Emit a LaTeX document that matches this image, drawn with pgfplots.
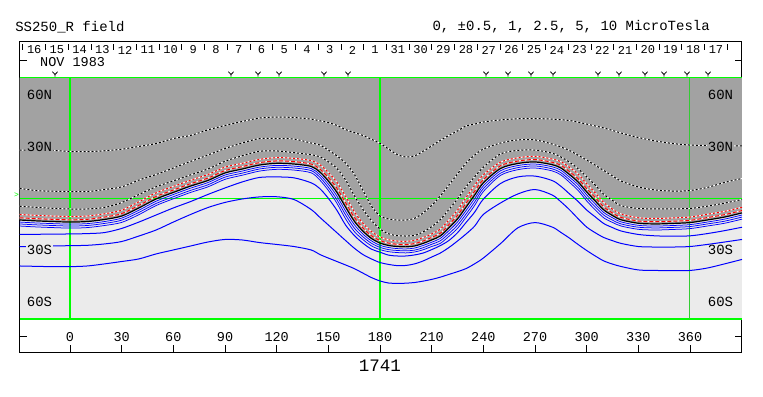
\documentclass[border=0pt]{standalone}
\usepackage{pgfplots}
\pgfplotsset{compat=1.18}
\usepackage{pgfplotstable}
\usepackage{fontspec}
\setmainfont{Liberation Mono}
\definecolor{dgray}{RGB}{162,162,162}
\definecolor{lgray}{RGB}{235,235,235}
\definecolor{pgreen}{RGB}{0,255,0}
\definecolor{pblue}{RGB}{0,0,255}
\definecolor{pred}{RGB}{255,0,0}

\pgfdeclareplotmark{vee}{%
 \pgfpathmoveto{\pgfqpoint{-2.6pt}{2.4pt}}%
 \pgfpathlineto{\pgfqpoint{0pt}{-0.4pt}}%
 \pgfpathlineto{\pgfqpoint{2.6pt}{2.4pt}}%
 \pgfpathmoveto{\pgfqpoint{0pt}{-0.4pt}}%
 \pgfpathlineto{\pgfqpoint{0pt}{-2.6pt}}%
 \pgfusepathqstroke}

\pgfplotstableread{
lon N R2 R1 B1 B2 B3 D1 D2 D3 B4 B5 B6
-29.3 -12.6 -9.4 -11.3 -13.8 -14.9 -16.1 -4.6 5.8 28.0 -20.9 -28.1 -39.3
-20 -13.1 -9.9 -11.8 -14.3 -15.4 -16.6 -5.2 4.5 28.0 -20.9 -27.9 -39.5
-10 -13.5 -10.3 -12.2 -14.7 -15.8 -17.0 -5.8 4.1 27.8 -20.8 -27.7 -39.7
0 -13.8 -10.6 -12.5 -15.0 -16.1 -17.3 -6.2 3.9 27.2 -20.7 -27.5 -39.7
10 -13.5 -10.3 -12.2 -14.7 -15.8 -17.0 -6.2 3.9 27.1 -20.5 -27.3 -39.3
20 -12.3 -9.0 -10.9 -13.5 -14.6 -15.8 -5.3 5.1 27.6 -19.9 -26.5 -38.1
30 -10.3 -6.9 -8.9 -11.5 -12.7 -14.0 -2.5 6.6 28.5 -17.5 -25.1 -36.7
40 -5.6 -2.0 -4.1 -6.9 -8.2 -9.5 2.2 10.6 30.1 -13.8 -21.9 -35.2
50 -0.4 3.2 1.1 -1.7 -3.0 -4.2 6.7 13.8 31.8 -9.7 -18.4 -32.3
60 3.4 6.9 4.8 2.2 0.9 -0.3 10.1 17.6 34.7 -5.6 -13.8 -30.0
70 7.1 10.5 8.5 5.9 4.6 3.4 13.6 21.4 36.5 -1.9 -9.4 -27.7
80 10.3 13.8 11.7 9.1 7.8 6.6 17.0 25.1 39.7 2.2 -5.4 -25.4
90 14.7 18.1 16.1 13.5 12.3 11.0 21.5 28.9 42.3 6.0 -2.4 -23.9
100 17.0 20.3 18.4 15.8 14.6 13.4 24.7 32.1 44.6 9.5 -0.4 -24.2
110 19.3 22.6 20.7 18.1 17.0 15.8 27.3 34.7 46.6 12.1 0.8 -25.7
120 20.3 23.6 21.7 19.1 18.0 16.8 27.5 34.7 47.2 12.4 0.9 -26.8
130 19.9 23.2 21.3 18.7 17.6 16.4 26.5 34.4 46.9 11.9 -0.7 -28.0
140 18.5 21.9 19.9 17.3 16.1 14.8 25.3 32.1 46.0 9.0 -6.5 -30.0
145 15.3 19.6 17.1 13.8 12.3 10.7 24.1 31.0 45.0 5.7 -11.0 -32.6
150 10.0 15.0 12.1 8.2 6.4 4.6 21.2 28.0 44.0 0.0 -15.5 -34.7
155 3.4 9.3 5.8 1.3 -0.8 -2.9 17.3 24.6 42.3 -7.0 -20.0 -36.7
160 -5.1 1.2 -2.5 -7.4 -9.6 -11.9 10.7 20.5 39.9 -15.5 -24.5 -38.7
165 -13.2 -7.6 -10.9 -15.2 -17.2 -19.2 1.7 14.1 38.2 -21.5 -28.9 -40.8
170 -19.0 -14.4 -17.1 -20.7 -22.3 -23.9 -6.3 4.8 36.5 -26.0 -32.6 -43.4
175 -23.3 -19.3 -21.7 -24.7 -26.1 -27.6 -12.9 -4.5 34.3 -29.5 -35.2 -46.0
180 -26.0 -22.5 -24.5 -27.3 -28.5 -29.8 -17.8 -10.3 31.9 -31.3 -37.3 -48.0
185 -27.4 -24.1 -26.0 -28.6 -29.8 -31.0 -20.6 -12.0 28.6 -33.0 -38.4 -49.2
190 -28.0 -24.8 -26.7 -29.2 -30.3 -31.5 -21.7 -12.6 25.4 -33.5 -39.1 -49.4
195 -28.2 -25.0 -26.9 -29.4 -30.5 -31.7 -21.9 -12.6 24.0 -33.5 -39.0 -49.3
200 -27.7 -24.4 -26.3 -28.9 -30.1 -31.2 -21.6 -11.7 24.6 -32.9 -38.1 -48.9
205 -26.2 -22.8 -24.8 -27.4 -28.7 -29.9 -19.5 -8.5 27.3 -31.8 -36.4 -48.1
210 -24.2 -20.7 -22.7 -25.5 -26.7 -28.0 -16.5 -4.2 30.4 -29.8 -34.1 -47.1
215 -21.9 -17.9 -20.3 -23.3 -24.7 -26.2 -12.4 1.3 33.6 -27.5 -31.8 -45.8
220 -17.2 -12.6 -15.3 -18.8 -20.5 -22.1 -6.5 7.7 36.5 -24.5 -28.6 -44.2
225 -12.0 -6.9 -9.9 -13.8 -15.6 -17.5 -0.4 14.1 39.1 -20.0 -24.8 -42.6
230 -5.1 0.5 -2.8 -7.1 -9.1 -11.0 6.7 20.5 42.0 -14.0 -20.7 -40.8
235 1.9 7.5 4.2 -0.1 -2.1 -4.1 12.5 25.1 43.1 -8.0 -16.1 -38.0
240 8.9 13.6 10.8 7.2 5.6 3.9 18.0 28.6 44.3 -0.5 -9.4 -34.7
250 17.3 21.0 18.9 16.0 14.6 13.3 25.8 32.1 45.5 8.6 -2.7 -26.3
260 20.2 23.5 21.6 19.0 17.8 16.6 27.8 33.9 46.2 12.4 2.5 -17.2
270 21.1 24.4 22.5 19.9 18.8 17.6 28.0 33.9 46.3 12.9 5.1 -14.1
280 19.5 22.8 20.9 18.3 17.1 15.9 26.2 31.5 46.0 10.3 1.9 -16.7
285 17.6 21.3 19.2 16.3 14.9 13.6 24.0 29.8 45.6 7.0 -2.0 -19.8
290 13.8 18.0 15.5 12.3 10.8 9.3 21.0 27.8 45.2 2.6 -6.6 -23.1
295 9.5 14.1 11.4 7.9 6.2 4.6 17.2 25.0 44.2 -1.8 -11.8 -26.8
300 3.7 8.5 5.7 2.0 0.2 -1.5 12.5 22.2 43.1 -6.8 -16.7 -30.3
305 -1.6 3.1 0.4 -3.3 -5.0 -6.7 7.6 19.2 42.0 -10.8 -20.0 -33.5
310 -6.8 -2.5 -5.0 -8.3 -9.8 -11.4 2.3 16.1 40.8 -14.7 -22.8 -36.4
315 -10.0 -6.3 -8.5 -11.3 -12.7 -14.0 -1.2 13.0 39.4 -17.0 -24.6 -38.2
320 -12.5 -9.1 -11.1 -13.7 -14.9 -16.1 -4.3 10.0 37.9 -19.0 -26.2 -39.6
330 -14.5 -11.3 -13.2 -15.7 -16.8 -18.0 -5.9 6.6 35.3 -21.0 -28.0 -41.6
340 -14.9 -11.7 -13.6 -16.1 -17.2 -18.4 -6.1 4.8 33.3 -21.8 -28.3 -41.9
350 -14.6 -11.4 -13.3 -15.8 -16.9 -18.1 -6.1 4.2 31.8 -22.0 -28.3 -42.0
360 -14.1 -10.9 -12.8 -15.3 -16.4 -17.6 -5.9 4.5 30.9 -21.8 -28.0 -41.9
370 -12.6 -9.3 -11.2 -13.8 -14.9 -16.1 -4.6 6.3 30.7 -20.5 -26.8 -40.5
380 -10.9 -7.6 -9.5 -12.1 -13.3 -14.5 -2.8 9.2 30.4 -18.8 -25.4 -38.1
390.2 -8.5 -5.2 -7.1 -9.7 -10.9 -12.1 -0.7 11.5 30.4 -16.8 -23.9 -35.5
}\contours

\pgfplotstableread{
lon lat
-8.7 72.1
93.5 72.1
109.2 72.1
121.4 72.1
147.5 72.1
161.4 72.1
241.6 72.1
254.3 72.1
267.7 72.1
280.5 72.1
306.6 72.1
318.8 72.1
333.9 72.1
344.9 72.1
358.3 72.1
370.5 72.1
}\vmarks

\pgfplotstableread{
lon lat
-27.39 87.6
-14.19 87.6
-1.00 87.6
12.20 87.6
25.39 87.6
38.59 87.6
51.79 87.6
64.98 87.6
78.18 87.6
91.37 87.6
104.57 87.6
117.77 87.6
130.96 87.6
144.16 87.6
157.35 87.6
170.55 87.6
183.75 87.6
196.94 87.6
210.14 87.6
223.33 87.6
236.53 87.6
249.73 87.6
262.92 87.6
276.12 87.6
289.31 87.6
302.51 87.6
315.71 87.6
328.90 87.6
342.10 87.6
355.29 87.6
368.49 87.6
381.69 87.6
}\seps

\begin{document}
\begin{tikzpicture}
\begin{axis}[
  x=1.7222pt, y=1.7222pt,
  xmin=-29.3, xmax=390.2, ymin=-89.25, ymax=90.76,
  clip=false,
  axis line style={black, line width=1pt},
  tick style={black, line width=0.9pt},
  tick align=inside,
  major tick length=7pt,
  xtick={0,30,...,360},
  xtick pos=bottom,
  ytick={-80,-70,...,80},
  ytick pos=both,
  yticklabels={},
  /pgf/number format/assume math mode=true,
  xticklabel style={font=\fontsize{13.5}{14}\selectfont, anchor=center, yshift=15pt},
]
% backgrounds
\addplot[fill=lgray, draw=none] coordinates {(-29.3,-70) (390.2,-70) (390.2,70) (-29.3,70)} -- cycle;
\addplot[fill=dgray, draw=none, smooth] table[x=lon,y=N]{\contours} -- (axis cs:390.2,70) -- (axis cs:-29.3,70) -- cycle;
% green grid
\addplot[pgreen, line width=1.4pt] coordinates {(-29.3,0) (390.2,0)};
\addplot[pgreen, line width=1.4pt] coordinates {(-29.3,70) (390.2,70)};
\addplot[pgreen, line width=1.4pt] coordinates {(-29.3,-70) (390.2,-70)};
\addplot[pgreen, line width=1.2pt] coordinates {(0,-70) (0,70)};
\addplot[pgreen, line width=1.2pt] coordinates {(180,-70) (180,70)};
\addplot[pgreen!60!gray, line width=1.0pt] coordinates {(360,-70) (360,70)};
% negative contours (dotted black/white)
\addplot[white, line width=1pt, smooth] table[x=lon,y=D3]{\contours};
\addplot[black, line width=1pt, smooth, dash pattern=on 2pt off 2pt] table[x=lon,y=D3]{\contours};
\addplot[white, line width=1pt, smooth] table[x=lon,y=D2]{\contours};
\addplot[black, line width=1pt, smooth, dash pattern=on 2pt off 2pt] table[x=lon,y=D2]{\contours};
\addplot[white, line width=1pt, smooth] table[x=lon,y=D1]{\contours};
\addplot[black, line width=1pt, smooth, dash pattern=on 2pt off 2pt] table[x=lon,y=D1]{\contours};
% red contours
\addplot[white, line width=1pt, smooth] table[x=lon,y=R2]{\contours};
\addplot[pred, line width=1pt, smooth, dash pattern=on 2pt off 2pt] table[x=lon,y=R2]{\contours};
\addplot[white, line width=1pt, smooth] table[x=lon,y=R1]{\contours};
\addplot[pred, line width=1pt, smooth, dash pattern=on 4pt off 2pt] table[x=lon,y=R1]{\contours};
% positive contours (blue)
\addplot[pblue, line width=1pt, smooth] table[x=lon,y=B6]{\contours};
\addplot[pblue, line width=1pt, smooth] table[x=lon,y=B5]{\contours};
\addplot[pblue, line width=1pt, smooth] table[x=lon,y=B4]{\contours};
\addplot[pblue, line width=0.75pt, smooth] table[x=lon,y=B3]{\contours};
\addplot[pblue, line width=0.75pt, smooth] table[x=lon,y=B2]{\contours};
\addplot[pblue, line width=0.75pt, smooth] table[x=lon,y=B1]{\contours};
% neutral line
\addplot[black, line width=1.2pt, smooth] table[x=lon,y=N]{\contours};
% latitude labels
\node[anchor=west, fill=dgray, inner sep=0.6pt, font=\fontsize{14}{14}\selectfont] at (axis cs:-25.5,60) {60N};
\node[anchor=west, fill=dgray, inner sep=0.6pt, font=\fontsize{14}{14}\selectfont] at (axis cs:-25.5,30) {30N};
\node[anchor=west, fill=lgray, inner sep=0.6pt, font=\fontsize{14}{14}\selectfont] at (axis cs:-25.5,-30) {30S};
\node[anchor=west, fill=lgray, inner sep=0.6pt, font=\fontsize{14}{14}\selectfont] at (axis cs:-25.5,-60) {60S};
\node[anchor=east, fill=dgray, inner sep=0.6pt, font=\fontsize{14}{14}\selectfont] at (axis cs:385.5,60) {60N};
\node[anchor=east, fill=dgray, inner sep=0.6pt, font=\fontsize{14}{14}\selectfont] at (axis cs:385.5,30) {30N};
\node[anchor=east, fill=lgray, inner sep=0.6pt, font=\fontsize{14}{14}\selectfont] at (axis cs:385.5,-30) {30S};
\node[anchor=east, fill=lgray, inner sep=0.6pt, font=\fontsize{14}{14}\selectfont] at (axis cs:385.5,-60) {60S};
\node[text=pgreen, font=\fontsize{8}{8}\selectfont, inner sep=0pt] at (axis cs:-31.0,2.0) {>};
% v marks and day separators
\addplot[only marks, mark=vee, mark options={black, line width=0.8pt}] table[x=lon,y=lat]{\vmarks};
\addplot[only marks, mark=|, mark size=3pt, mark options={black, line width=0.9pt}] table[x=lon,y=lat]{\seps};
% day labels
\begin{scope}[every node/.style={font=\fontsize{12}{12}\selectfont, inner sep=0pt}]
\node at (axis cs:-20.79,86.1) {16};
\node at (axis cs:-7.59,86.1) {15};
\node at (axis cs:5.60,86.1) {14};
\node at (axis cs:18.80,86.1) {13};
\node at (axis cs:31.99,86.1) {12};
\node at (axis cs:45.19,86.1) {11};
\node at (axis cs:58.39,86.1) {10};
\node at (axis cs:71.58,86.1) {9};
\node at (axis cs:84.78,86.1) {8};
\node at (axis cs:97.97,86.1) {7};
\node at (axis cs:111.17,86.1) {6};
\node at (axis cs:124.37,86.1) {5};
\node at (axis cs:137.56,86.1) {4};
\node at (axis cs:150.76,86.1) {3};
\node at (axis cs:163.95,86.1) {2};
\node at (axis cs:177.15,86.1) {1};
\node at (axis cs:190.35,86.1) {31};
\node at (axis cs:203.54,86.1) {30};
\node at (axis cs:216.74,86.1) {29};
\node at (axis cs:229.93,86.1) {28};
\node at (axis cs:243.13,86.1) {27};
\node at (axis cs:256.33,86.1) {26};
\node at (axis cs:269.52,86.1) {25};
\node at (axis cs:282.72,86.1) {24};
\node at (axis cs:295.91,86.1) {23};
\node at (axis cs:309.11,86.1) {22};
\node at (axis cs:322.31,86.1) {21};
\node at (axis cs:335.50,86.1) {20};
\node at (axis cs:348.70,86.1) {19};
\node at (axis cs:361.89,86.1) {18};
\node at (axis cs:375.09,86.1) {17};
\end{scope}
\node[anchor=west, inner sep=0pt, font=\fontsize{13.5}{14}\selectfont] at (axis cs:-17.4,79.3) {NOV 1983};
% titles
\node[anchor=west, inner sep=0pt, font=\fontsize{14}{14}\selectfont] at (axis cs:-31.9,99.6) {SS250\_R field};
\node[anchor=east, inner sep=0pt, font=\fontsize{14}{14}\selectfont] at (axis cs:371.6,99.6) {0, ±0.5, 1, 2.5, 5, 10 MicroTesla};
\node[inner sep=0pt, font=\fontsize{17.5}{18}\selectfont] at (axis cs:180,-97.1) {1741};
% page frame
\path (axis cs:-40.65,-114.8) rectangle (axis cs:402.4,115.14);
\end{axis}
\end{tikzpicture}
\end{document}
